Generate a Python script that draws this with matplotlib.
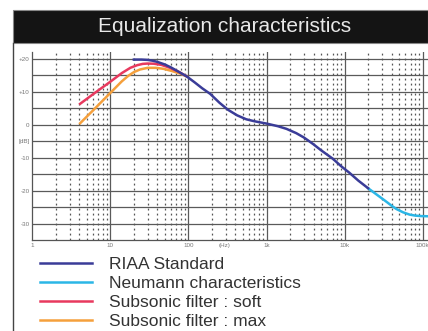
import numpy as np
import matplotlib.pyplot as plt
from matplotlib.patches import Rectangle
from matplotlib.lines import Line2D

plt.rcParams['font.family'] = ['Liberation Sans', 'DejaVu Sans']

# values (Hz, dB)
riaa_f = [20, 25, 30, 35, 40, 50, 60, 70, 80, 95, 120, 150, 190, 250, 320, 420, 550, 700,
          1000, 1400, 1800, 2400, 3000, 3400, 4000, 5000, 7100, 9000, 11500, 15000, 20000]
riaa_db = [19.7, 19.7, 19.6, 19.35, 19.0, 18.2, 17.3, 16.4, 15.6, 14.6, 12.8, 11.0, 9.3, 6.6,
           4.5, 2.8, 1.6, 1.0, 0.3, -0.5, -1.3, -2.6, -3.9, -4.8, -6.0, -7.8, -10.4, -12.6,
           -14.6, -17.0, -19.3]

neu_f = [20000, 25000, 33000, 40000, 46000, 56000, 68000, 80000, 95000, 117000]
neu_db = [-19.3, -21.0, -23.1, -24.6, -25.6, -26.6, -27.3, -27.6, -27.75, -27.8]

soft_f = [4.1, 6, 10, 14, 18, 22, 26, 30, 36, 45, 58, 75, 95]
soft_db = [6.3, 9.2, 13.0, 15.6, 17.2, 18.0, 18.4, 18.5, 18.45, 18.1, 17.2, 16.0, 14.6]

max_f = [4.1, 6, 10, 14, 17, 20, 24, 30, 38, 48, 60, 80, 95]
max_db = [0.4, 4.3, 9.6, 13.1, 14.8, 15.9, 16.7, 17.2, 17.2, 16.9, 16.3, 15.4, 14.6]

labels = ['RIAA Standard', 'Neumann characteristics', 'Subsonic filter : soft', 'Subsonic filter : max']
colors = ['#3a3c98', '#2bb6e6', '#e8395e', '#f5a03c']

fig = plt.figure(figsize=(4.28, 3.31), dpi=100)

# title bar + outer frame
fig.add_artist(Rectangle((13/428, 1-43/331), 415/428, 33/331, transform=fig.transFigure,
                         facecolor='#141414', edgecolor='#888888', lw=0.8))
fig.text(225/428, 1-26.5/331, 'Equalization characteristics', color='#e8e8e8',
         fontsize=15, ha='center', va='center')
fig.add_artist(Line2D([13.3/428, 13.3/428], [0, 1-43/331], transform=fig.transFigure,
                      color='#444444', lw=1.0))

ax = fig.add_axes([32.3/428, 91/331, (428-32.3)/428, 188/331])
ax.set_xscale('log')
ax.set_xlim(1, 117000)
ax.set_ylim(-35, 22)

# grid
for y in range(-30, 21, 5):
    ax.axhline(y, color='#5a5a5a', lw=0.9, zorder=1)
for dec in [1, 10, 100, 1000, 10000]:
    if dec > 1:
        ax.axvline(dec, color='#5a5a5a', lw=0.9, zorder=1)
    for m in range(2, 10):
        ax.axvline(dec*m, color='#555555', lw=0.9, ls=(0, (1.5, 2.5)), zorder=1)
ax.axvline(100000, color='#5a5a5a', lw=0.9, zorder=1)

l3, = ax.plot(max_f, max_db, color=colors[3], lw=1.8, zorder=3)
l2, = ax.plot(soft_f, soft_db, color=colors[2], lw=1.8, zorder=4)
l1, = ax.plot(neu_f, neu_db, color=colors[1], lw=1.8, zorder=5)
l0, = ax.plot(riaa_f, riaa_db, color=colors[0], lw=1.8, zorder=6)

for s in ['top', 'right']:
    ax.spines[s].set_visible(False)
for s in ['left', 'bottom']:
    ax.spines[s].set_color('#555555')
    ax.spines[s].set_linewidth(0.9)

ax.set_yticks([20, 10, 0, -5, -10, -20, -30])
ax.set_yticklabels(['+20', '+10', '0', '[dB]', '-10', '-20', '-30'])
ax.set_xticks([1, 10, 100, 290, 1000, 10000, 100000])
ax.set_xticklabels(['1', '10', '100', '(Hz)', '1k', '10k', '100k'])
ax.minorticks_off()
ax.tick_params(length=0, labelsize=4.5, labelcolor='#777777', pad=2)

ax.legend([l0, l1, l2, l3], labels, loc='upper left', bbox_to_anchor=(40/428, 1-257/331),
          bbox_transform=fig.transFigure, frameon=False, fontsize=12.5,
          handlelength=3.0, handletextpad=1.0, labelspacing=0.22, borderpad=0,
          borderaxespad=0, labelcolor='#333333')

plt.savefig('out.png', dpi=100)
